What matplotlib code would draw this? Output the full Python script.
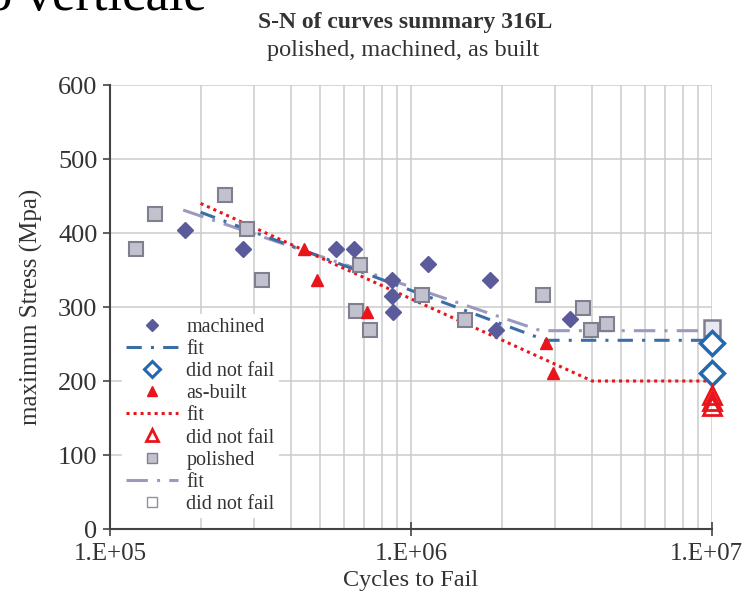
import numpy as np
import matplotlib
matplotlib.use("Agg")
import matplotlib.pyplot as plt
import matplotlib.transforms as mtransforms
from matplotlib.lines import Line2D
from matplotlib.ticker import LogLocator, FixedLocator

plt.rcParams["font.family"] = ["Liberation Serif", "DejaVu Serif"]

# machined specimens
mach_n = [1.77e5, 2.77e5, 5.64e5, 6.47e5, 8.65e5, 8.65e5, 8.7e5, 1.14e6, 1.83e6, 1.91e6, 3.37e6]
mach_s = [404, 378, 378, 378, 336, 315, 293, 358, 336, 269, 284]
mach_runout_n = [1e7, 1e7]
mach_runout_s = [252, 211]
mach_fit_n = [2.0e5, 2.8e6, 1e7]
mach_fit_s = [428, 255, 255]

# as-built specimens
built_n = [4.42e5, 4.88e5, 7.14e5, 2.8e6, 2.96e6]
built_s = [378, 336, 293, 252, 211]
built_runout_n = [1e7, 1e7, 1e7]
built_runout_s = [181, 173, 166]
built_fit_n = [2.0e5, 4.0e6, 1e7]
built_fit_s = [440, 200, 200]

# polished specimens
pol_n = [1.22e5, 1.41e5, 2.41e5, 2.85e5, 3.2e5, 6.77e5, 6.56e5, 7.3e5, 1.09e6,
         1.51e6, 2.74e6, 3.72e6, 3.96e6, 4.48e6]
pol_s = [378, 425, 451, 405, 336, 357, 295, 269, 316, 283, 316, 299, 269, 277]
pol_runout_n = [1e7]
pol_runout_s = [272]
pol_fit_n = [1.75e5, 2.7e6, 1e7]
pol_fit_s = [431, 268, 268]

legend_labels = ["machined", "fit", "did not fail", "as-built", "fit", "did not fail",
                 "polished", "fit", "did not fail"]

c_mach = "#5B5B9B"
c_mach_fit = "#3A6EA8"
c_blue = "#2468B0"
c_red = "#E8161C"
c_pol_face = "#C2C2CE"
c_pol_edge = "#7F7F90"
c_pol_fit = "#9A9AC0"
c_text = "#333333"

fig = plt.figure(figsize=(7.44, 6.02), dpi=100)
ax = fig.add_axes([110 / 744, 1 - 529 / 602, 602 / 744, 444 / 602])

ax.set_xscale("log")
ax.set_xlim(1e5, 1e7)
ax.set_ylim(0, 600)

# fit lines
ax.plot(pol_fit_n, pol_fit_s, color=c_pol_fit, lw=2.2, ls=(0, (7, 3, 1, 3)), zorder=2)
ax.plot(mach_fit_n, mach_fit_s, color=c_mach_fit, lw=2.2, ls=(0, (5, 3, 1, 3)), zorder=2)
ax.plot(built_fit_n, built_fit_s, color=c_red, lw=2.2, ls=(0, (1, 1.3)), zorder=2)

# test points
ax.plot(pol_n, pol_s, ls="none", marker="s", ms=10, mfc=c_pol_face, mec=c_pol_edge, mew=1.5, zorder=3)
ax.plot(mach_n, mach_s, ls="none", marker="D", ms=8, mfc=c_mach, mec=c_mach, zorder=4)
ax.plot(built_n, built_s, ls="none", marker="^", ms=9, mfc=c_red, mec=c_red, zorder=4)

# run-outs
ax.plot(pol_runout_n, pol_runout_s, ls="none", marker="s", ms=11, mfc="#E8E8F0", mec=c_pol_edge,
        mew=1.8, zorder=5, clip_on=False)
ax.plot(mach_runout_n, mach_runout_s, ls="none", marker="D", ms=12, mfc="white", mec=c_blue,
        mew=2.5, zorder=6, clip_on=False)
ax.plot(built_runout_n, built_runout_s, ls="none", marker="^", ms=13, mfc="none", mec=c_red,
        mew=2, zorder=6, clip_on=False)

# grid and axes
ax.set_yticks(np.arange(0, 601, 100))
ax.xaxis.set_major_locator(FixedLocator([1e5, 1e6, 1e7]))
ax.xaxis.set_minor_locator(LogLocator(base=10, subs=np.arange(2, 10)))
ax.set_xticklabels(["1.E+05", "1.E+06", "1.E+07"])
ax.xaxis.set_minor_formatter(plt.NullFormatter())
ax.grid(True, which="both", axis="x", color="#CCCCCC", lw=1.1)
ax.grid(True, which="major", axis="y", color="#CCCCCC", lw=1.1)
ax.set_axisbelow(True)
for side in ["top", "right"]:
    ax.spines[side].set_visible(False)
for side in ["left", "bottom"]:
    ax.spines[side].set_color("#444444")
    ax.spines[side].set_linewidth(1.5)
ax.tick_params(axis="y", direction="out", length=5, width=1.2, color="#444444",
               labelsize=19, labelcolor=c_text, pad=4)
ax.tick_params(axis="x", which="major", direction="inout", length=10, width=1.2, color="#444444",
               labelsize=18, labelcolor=c_text, pad=5)
ax.tick_params(axis="x", which="minor", length=0)

# keep the last x label inside the figure
last = ax.get_xticklabels()[-1]
last.set_transform(last.get_transform() + mtransforms.ScaledTranslation(-6 / 100, 0, fig.dpi_scale_trans))

ax.set_ylabel("maximum Stress (Mpa)", fontsize=18, color=c_text, labelpad=11)
ax.set_xlabel("Cycles to Fail", fontsize=17.5, color=c_text, labelpad=4)

# legend
handles = [
    Line2D([], [], ls="none", marker="D", ms=6, mfc=c_mach, mec=c_mach),
    Line2D([], [], color=c_mach_fit, lw=2.2, ls=(0, (5, 3, 1, 3))),
    Line2D([], [], ls="none", marker="D", ms=8, mfc="white", mec=c_blue, mew=2.2),
    Line2D([], [], ls="none", marker="^", ms=7, mfc=c_red, mec=c_red),
    Line2D([], [], color=c_red, lw=2.2, ls=(0, (1, 1.3))),
    Line2D([], [], ls="none", marker="^", ms=9, mfc="white", mec=c_red, mew=2),
    Line2D([], [], ls="none", marker="s", ms=7, mfc=c_pol_face, mec=c_pol_edge, mew=1),
    Line2D([], [], color=c_pol_fit, lw=2.2, ls=(0, (7, 3, 1, 3))),
    Line2D([], [], ls="none", marker="s", ms=7, mfc="white", mec="#9090A0", mew=1),
]
leg = ax.legend(handles, legend_labels, loc="lower left", bbox_to_anchor=(0.02, 0.025),
                borderaxespad=0, frameon=True, fontsize=14.5, labelspacing=0.15,
                handlelength=2.6, handletextpad=0.4, borderpad=0.2)
leg.get_frame().set_facecolor("white")
leg.get_frame().set_edgecolor("none")
leg.get_frame().set_alpha(1)
for t in leg.get_texts():
    t.set_color(c_text)

# titles
fig.text(405 / 744, 1 - 28 / 602, "S-N of curves summary 316L", ha="center", va="baseline",
         fontsize=17, fontweight="bold", color=c_text)
fig.text(403 / 744, 1 - 56 / 602, "polished, machined, as built", ha="center", va="baseline",
         fontsize=17.5, color=c_text)

# leftover heading text at the top edge
fig.text(-14 / 744, 1 - 10 / 602, "o verticale", ha="left", va="baseline", fontsize=38,
         color="black")

fig.savefig("out.png", dpi=100)
